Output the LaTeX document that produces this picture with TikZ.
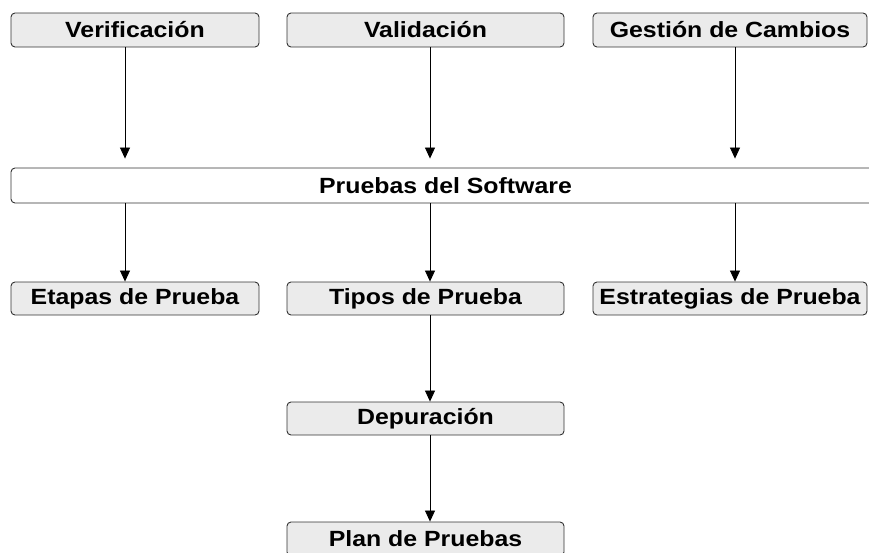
\documentclass[tikz,border=0pt]{standalone}
\usepackage{fontspec}
\setmainfont{Liberation Sans}[FakeStretch=1.13]
\usetikzlibrary{arrows.meta}
\definecolor{boxgray}{RGB}{235,235,235}
\definecolor{boxline}{RGB}{50,50,50}
\tikzset{
  box/.style={draw=boxline, fill=boxgray, rounded corners=4pt, line width=0.9pt,
    minimum height=34pt, inner sep=0pt, font=\fontsize{22}{25}\selectfont\bfseries},
  flow/.style={line width=0.8pt, -{Triangle[width=10pt,length=11pt]}}
}
\begin{document}
\begin{tikzpicture}[x=1pt,y=-1pt]
\useasboundingbox (0,0) rectangle (869,552);
\clip (0,0) rectangle (869,552);

% Text Node
\node[box, minimum width=248pt] (ver) at (135,30) {Verificación};
% Text Node
\node[box, minimum width=277pt] (val) at (425.5,30) {Validación};
% Text Node
\node[box, minimum width=274pt] (ges) at (730,30) {Gestión de Cambios};
% Text Node
\node[box, fill=white, minimum width=869pt, minimum height=35pt] (pru) at (445.5,185.5) {Pruebas del Software};
% Text Node
\node[box, minimum width=248pt, minimum height=33pt] (eta) at (135,298.5) {Etapas de Prueba};
% Text Node
\node[box, minimum width=277pt, minimum height=33pt] (tip) at (425.5,298.5) {Tipos de Prueba};
% Text Node
\node[box, minimum width=274pt, minimum height=33pt] (est) at (730,298.5) {Estrategias de Prueba};
% Text Node
\node[box, minimum width=277pt, minimum height=33pt] (dep) at (425.5,418.5) {Depuración};
% Text Node
\node[box, minimum width=277pt] (pla) at (425.5,539) {Plan de Pruebas};

%Straight Lines
\draw[flow, shorten >=9pt] ([xshift=-10]ver.south) -- ([xshift=-10]ver.south |- pru.north);
\draw[flow, shorten >=9pt] ([xshift=4.5]val.south) -- ([xshift=4.5]val.south |- pru.north);
\draw[flow, shorten >=9pt] ([xshift=5]ges.south) -- ([xshift=5]ges.south |- pru.north);
%Straight Lines
\draw[flow] ([xshift=-10]eta.north |- pru.south) -- ([xshift=-10]eta.north);
\draw[flow] ([xshift=4.5]tip.north |- pru.south) -- ([xshift=4.5]tip.north);
\draw[flow] ([xshift=5]est.north |- pru.south) -- ([xshift=5]est.north);
%Straight Lines
\draw[flow] ([xshift=4.5]tip.south) -- ([xshift=4.5]dep.north);
\draw[flow] ([xshift=4.5]dep.south) -- ([xshift=4.5]pla.north);

\end{tikzpicture}
\end{document}
